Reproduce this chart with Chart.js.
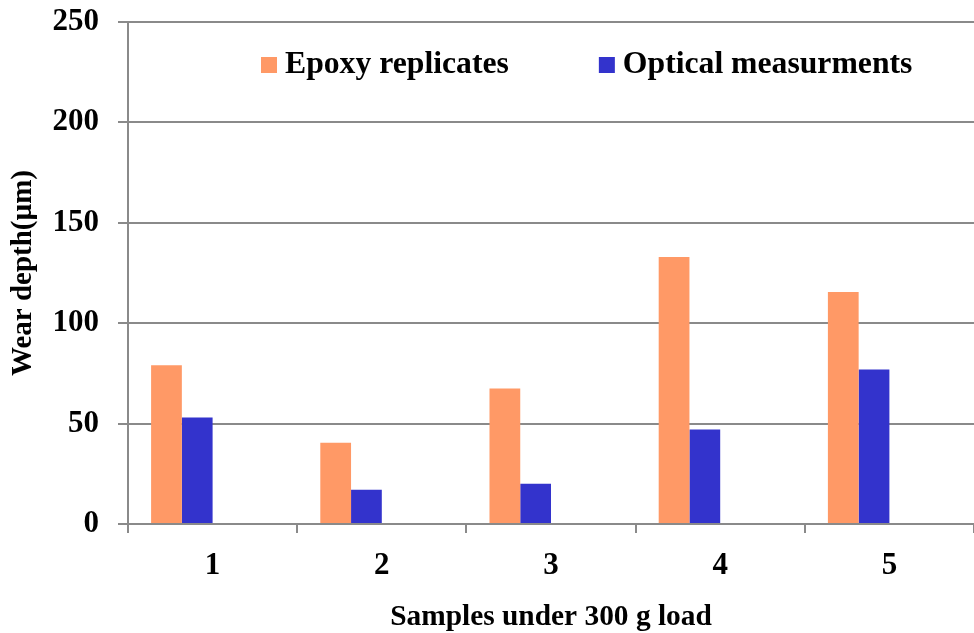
<!DOCTYPE html>
<html>
<head>
<meta charset="utf-8">
<script src="https://cdn.jsdelivr.net/npm/chart.js@4.4.1/dist/chart.umd.min.js"></script>
<style>
  html, body { margin: 0; padding: 0; background: #ffffff; }
  #wrap { width: 974px; height: 633px; }
</style>
</head>
<body>
<div id="wrap"><canvas id="wearChart" width="974" height="633"></canvas></div>
<script>
const categories = ["1", "2", "3", "4", "5"];
const epoxyValues = [79, 40.5, 67.5, 133, 115.5];
const opticalValues = [53, 17, 20, 47, 77];
const yTicks = [0, 50, 100, 150, 200, 250];

const FONT = "'Liberation Serif', 'Times New Roman', serif";
const GRID = "#8a8a8a";

// legend drawn inside the plot area, like the original
const insideLegend = {
  id: "insideLegend",
  afterDraw(chart) {
    const ctx = chart.ctx;
    const items = chart.data.datasets.filter(d => d.label);
    ctx.save();
    ctx.font = "bold 31.7px " + FONT;
    ctx.textBaseline = "middle";
    ctx.textAlign = "left";
    let x = 261;
    const y = 65;
    items.forEach(d => {
      ctx.fillStyle = d.backgroundColor;
      ctx.fillRect(x, y - 8, 16, 16);
      ctx.fillStyle = "#000000";
      ctx.fillText(d.label, x + 24, y);
      x += 24 + ctx.measureText(d.label).width + 90;
    });
    ctx.restore();
  }
};

new Chart(document.getElementById("wearChart"), {
  type: "bar",
  data: {
    labels: categories,
    datasets: [
      { label: "Epoxy replicates", data: epoxyValues, backgroundColor: "#FF9966" },
      { label: "Optical measurments", data: opticalValues, backgroundColor: "#3333CC" },
      { label: "", data: [], backgroundColor: "#ffffff" },
      { label: "", data: [], backgroundColor: "#ffffff" }
    ]
  },
  options: {
    responsive: false,
    animation: false,
    layout: { padding: { top: 22, right: 0, bottom: 0, left: 0 } },
    datasets: {
      bar: { categoryPercentage: 0.727, barPercentage: 1 }
    },
    plugins: {
      legend: { display: false },
      tooltip: { enabled: false }
    },
    scales: {
      x: {
        afterFit: s => { s.height = 109; },
        grid: { drawOnChartArea: false, color: GRID, lineWidth: 2, tickLength: 9, offset: true },
        border: { color: GRID, width: 2 },
        ticks: { color: "#000000", padding: 14, font: { family: FONT, size: 31, weight: "bold" } },
        title: {
          display: true,
          text: "Samples under 300 g load",
          color: "#000000",
          padding: { top: 0, bottom: -2 },
          font: { family: FONT, size: 29.4, weight: "bold" }
        }
      },
      y: {
        min: 0,
        max: 250,
        afterFit: s => { s.width = 128; s.paddingTop = 0; s.paddingBottom = 0; },
        afterBuildTicks: s => { s.ticks = yTicks.map(v => ({ value: v })); },
        grid: { color: GRID, lineWidth: 2, tickLength: 10 },
        border: { color: GRID, width: 2 },
        ticks: { color: "#000000", padding: 19, font: { family: FONT, size: 31, weight: "bold" } },
        title: {
          display: true,
          text: "Wear depth(µm)",
          color: "#000000",
          padding: { top: 6, bottom: 0 },
          font: { family: FONT, size: 29, weight: "bold" }
        }
      }
    }
  },
  plugins: [insideLegend]
});
</script>
</body>
</html>
